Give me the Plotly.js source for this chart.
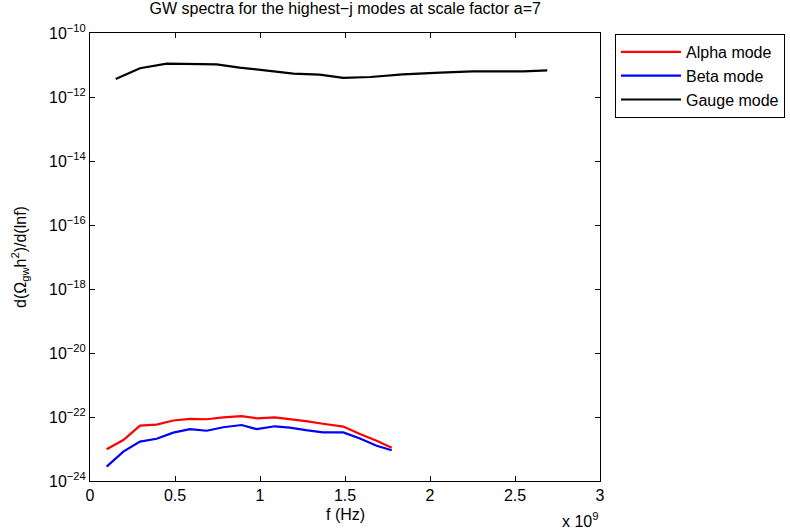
<!DOCTYPE html>
<html><head><meta charset="utf-8">
<script src="https://cdn.plot.ly/plotly-3.0.1.min.js"></script>
<style>body{margin:0;background:#fff}#c{width:790px;height:531px}</style>
</head><body><div id="c"></div>
<script>
// frequencies in units of 1e9 Hz
const fAB = [0.098,0.196,0.294,0.392,0.49,0.588,0.686,0.784,0.892,0.98,1.088,1.176,1.27,1.37,1.49,1.588,1.686,1.775];
const alphaLog = [-23.01,-22.72,-22.27,-22.24,-22.11,-22.06,-22.07,-22.01,-21.97,-22.04,-22.01,-22.06,-22.13,-22.21,-22.30,-22.53,-22.74,-22.96];
const betaLog = [-23.55,-23.08,-22.77,-22.68,-22.49,-22.38,-22.43,-22.32,-22.25,-22.38,-22.29,-22.33,-22.41,-22.48,-22.48,-22.67,-22.90,-23.04];
const fG = [0.151,0.294,0.451,0.60,0.745,0.88,1.02,1.196,1.35,1.49,1.65,1.84,2.06,2.25,2.55,2.69];
const gaugeLog = [-11.44,-11.10,-10.96,-10.98,-10.98,-11.08,-11.17,-11.27,-11.30,-11.40,-11.375,-11.29,-11.24,-11.20,-11.20,-11.17];
const xTicks = [0,0.5,1,1.5,2,2.5,3];
const yTickExp = [-24,-22,-20,-18,-16,-14,-12,-10];

const pow = a => a.map(v => Math.pow(10, v));
const fam = 'Liberation Sans, Arial, sans-serif';
const font = {family:fam, size:16, color:'#000'};
const traces = [
  {x:fAB, y:pow(alphaLog), name:'Alpha mode', mode:'lines', line:{color:'#ff0000', width:2.2}},
  {x:fAB, y:pow(betaLog), name:'Beta mode', mode:'lines', line:{color:'#0000ff', width:2.2}},
  {x:fG, y:pow(gaugeLog), name:'Gauge mode', mode:'lines', line:{color:'#000000', width:2.2}}
];
const layout = {
  width:790, height:531,
  margin:{l:90, r:190, t:33, b:50},
  paper_bgcolor:'#fff', plot_bgcolor:'#fff',
  font:font,
  title:{text:'GW spectra for the highest−j modes at scale factor a=7', x:0.437, xanchor:'center', y:0.994, yanchor:'top', font:{family:fam, size:16, color:'#000'}},
  xaxis:{range:[0,3], tickvals:xTicks, ticktext:xTicks.map(String), ticks:'inside', ticklen:5, tickcolor:'#000',
    showline:true, linecolor:'#000', linewidth:1, mirror:'ticks', showgrid:false, zeroline:false, automargin:false,
    tickfont:{size:16}},
  yaxis:{type:'log', range:[-24,-10], tickvals:pow(yTickExp), ticktext:yTickExp.map(e=>'10<sup>−'+(-e)+'</sup>'),
    ticks:'inside', ticklen:5, tickcolor:'#000', showline:true, linecolor:'#000', linewidth:1, mirror:'ticks',
    showgrid:false, zeroline:false, automargin:false,
    title:{text:'d(Ω<sub>gw</sub>h<sup>2</sup>)/d(lnf)', standoff:18, font:{family:fam, size:16}}, tickfont:{size:16}},
  legend:{xref:'container', yref:'container', x:0.7785, y:0.936, xanchor:'left', yanchor:'top', bordercolor:'#000', borderwidth:1, bgcolor:'#fff',
    font:{family:fam, size:16, color:'#000'}, itemwidth:60, tracegroupgap:0},
  annotations:[
    {xref:'paper', yref:'paper', x:0.5, y:0, yshift:-23, xanchor:'center', yanchor:'top', showarrow:false,
      text:'f (Hz)', font:{family:fam, size:16, color:'#000'}},
    {xref:'paper', yref:'paper', x:1.0, y:0, yshift:-27, xanchor:'right', yanchor:'top', showarrow:false,
    text:'x 10<sup>9</sup>', font:{family:fam, size:16, color:'#000'}}]
};
Plotly.newPlot('c', traces, layout, {displayModeBar:false, staticPlot:true});
</script></body></html>
